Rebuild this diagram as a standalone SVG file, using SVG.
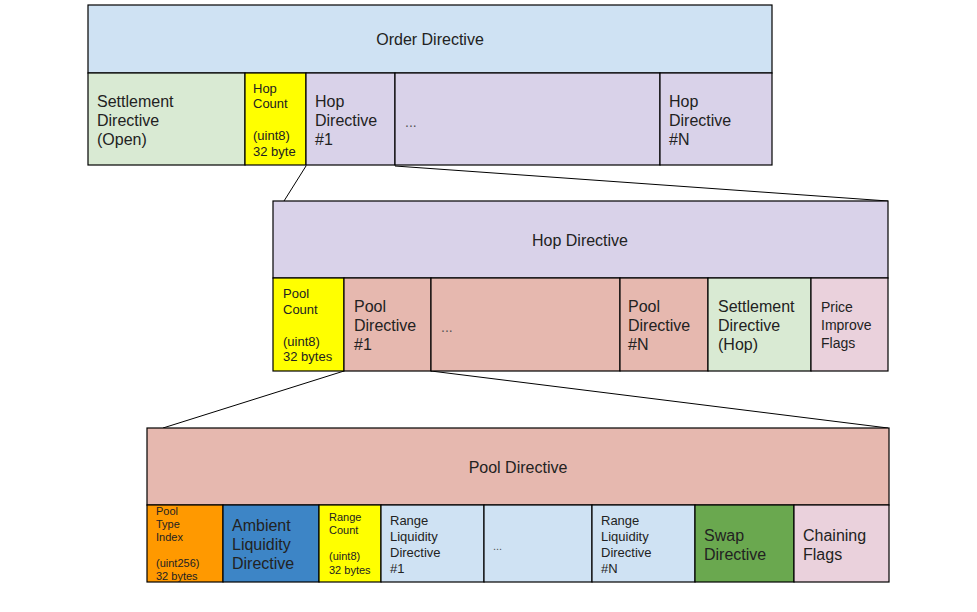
<svg xmlns="http://www.w3.org/2000/svg" width="977" height="612" viewBox="0 0 977 612">
<style>
rect{stroke:#000;stroke-width:1.2}
text{font-family:"Liberation Sans",Arial,sans-serif;fill:#222}
.h{font-size:16px;text-anchor:middle}
.l{font-size:16px}
.m{font-size:14px}
.s{font-size:13px}
.xs{font-size:11px}
.r{font-size:13px}
.dot{font-size:14px;fill:#555}
.blue{fill:#cfe2f3}.green{fill:#d9ead3}.yel{fill:#ffff00}.pur{fill:#d9d2e9}.pink{fill:#e6b8af}.rose{fill:#ead1dc}.org{fill:#ff9900}.amb{fill:#3d85c6}.sw{fill:#6aa84f}
</style>
<rect width="977" height="612" fill="#fff" style="stroke:none"/>
<g id="connectors" stroke="#000" stroke-width="1" fill="none">
<line x1="306" y1="166" x2="284" y2="201"/>
<line x1="395" y1="166" x2="888" y2="201"/>
<line x1="344" y1="371" x2="163" y2="428"/>
<line x1="431" y1="371" x2="888" y2="428"/>
</g>
<g id="order-directive">
<rect class="blue" x="88" y="5" width="684" height="68"/>
<text class="h" x="430" y="45">Order Directive</text>
</g>
<g id="settlement-open">
<rect class="green" x="88" y="73" width="157" height="92"/>
<text class="l" x="97" y="107">Settlement</text><text class="l" x="97" y="126">Directive</text><text class="l" x="97" y="145">(Open)</text>
</g>
<g id="hop-count">
<rect class="yel" x="245" y="73" width="61" height="92"/>
<text class="s" x="253" y="93">Hop</text><text class="s" x="253" y="108">Count</text><text class="s" x="253" y="140">(uint8)</text><text class="s" x="253" y="156">32 byte</text>
</g>
<g id="hop-directive-1">
<rect class="pur" x="306" y="73" width="89" height="92"/>
<text class="l" x="315" y="107">Hop</text><text class="l" x="315" y="126">Directive</text><text class="l" x="315" y="145">#1</text>
</g>
<g id="hop-ellipsis">
<rect class="pur" x="395" y="73" width="265" height="92"/>
<text class="dot" x="405" y="127">...</text>
</g>
<g id="hop-directive-n">
<rect class="pur" x="660" y="73" width="112" height="92"/>
<text class="l" x="669" y="107">Hop</text><text class="l" x="669" y="126">Directive</text><text class="l" x="669" y="145">#N</text>
</g>
<g id="hop-directive">
<rect class="pur" x="273" y="201" width="615" height="77"/>
<text class="h" x="580" y="246">Hop Directive</text>
</g>
<g id="pool-count">
<rect class="yel" x="273" y="278" width="71" height="93"/>
<text class="s" x="283" y="298">Pool</text><text class="s" x="283" y="314">Count</text><text class="s" x="283" y="346">(uint8)</text><text class="s" x="283" y="361">32 bytes</text>
</g>
<g id="pool-directive-1">
<rect class="pink" x="344" y="278" width="87" height="93"/>
<text class="l" x="354" y="312">Pool</text><text class="l" x="354" y="331">Directive</text><text class="l" x="354" y="350">#1</text>
</g>
<g id="pool-ellipsis">
<rect class="pink" x="431" y="278" width="189" height="93"/>
<text class="dot" x="441" y="332">...</text>
</g>
<g id="pool-directive-n">
<rect class="pink" x="620" y="278" width="88" height="93"/>
<text class="l" x="628" y="312">Pool</text><text class="l" x="628" y="331">Directive</text><text class="l" x="628" y="350">#N</text>
</g>
<g id="settlement-hop">
<rect class="green" x="708" y="278" width="103" height="93"/>
<text class="l" x="718" y="312">Settlement</text><text class="l" x="718" y="331">Directive</text><text class="l" x="718" y="350">(Hop)</text>
</g>
<g id="price-improve">
<rect class="rose" x="811" y="278" width="77" height="93"/>
<text class="m" x="821" y="312">Price</text><text class="m" x="821" y="330">Improve</text><text class="m" x="821" y="348">Flags</text>
</g>
<g id="pool-directive">
<rect class="pink" x="147" y="428" width="742" height="77"/>
<text class="h" x="518" y="473">Pool Directive</text>
</g>
<g id="pool-type-index">
<rect class="org" x="147" y="505" width="76" height="77"/>
<text class="xs" x="156" y="515">Pool</text><text class="xs" x="156" y="528">Type</text><text class="xs" x="156" y="541">Index</text><text class="xs" x="156" y="567">(uint256)</text><text class="xs" x="156" y="580">32 bytes</text>
</g>
<g id="ambient-liquidity">
<rect class="amb" x="223" y="505" width="96" height="77"/>
<text class="l" x="232" y="531">Ambient</text><text class="l" x="232" y="550">Liquidity</text><text class="l" x="232" y="569">Directive</text>
</g>
<g id="range-count">
<rect class="yel" x="319" y="505" width="62" height="77"/>
<text class="xs" x="329" y="521">Range</text><text class="xs" x="329" y="534">Count</text><text class="xs" x="329" y="560">(uint8)</text><text class="xs" x="329" y="574">32 bytes</text>
</g>
<g id="range-liquidity-1">
<rect class="blue" x="381" y="505" width="103" height="77"/>
<text class="r" x="390" y="525">Range</text><text class="r" x="390" y="541">Liquidity</text><text class="r" x="390" y="557">Directive</text><text class="r" x="390" y="573">#1</text>
</g>
<g id="range-ellipsis">
<rect class="blue" x="484" y="505" width="108" height="77"/>
<text class="dot" x="493" y="550" style="font-size:11px">...</text>
</g>
<g id="range-liquidity-n">
<rect class="blue" x="592" y="505" width="103" height="77"/>
<text class="r" x="601" y="525">Range</text><text class="r" x="601" y="541">Liquidity</text><text class="r" x="601" y="557">Directive</text><text class="r" x="601" y="573">#N</text>
</g>
<g id="swap-directive">
<rect class="sw" x="695" y="505" width="99" height="77"/>
<text class="l" x="704" y="541">Swap</text><text class="l" x="704" y="560">Directive</text>
</g>
<g id="chaining-flags">
<rect class="rose" x="794" y="505" width="95" height="77"/>
<text class="l" x="803" y="541">Chaining</text><text class="l" x="803" y="560">Flags</text>
</g>
</svg>
